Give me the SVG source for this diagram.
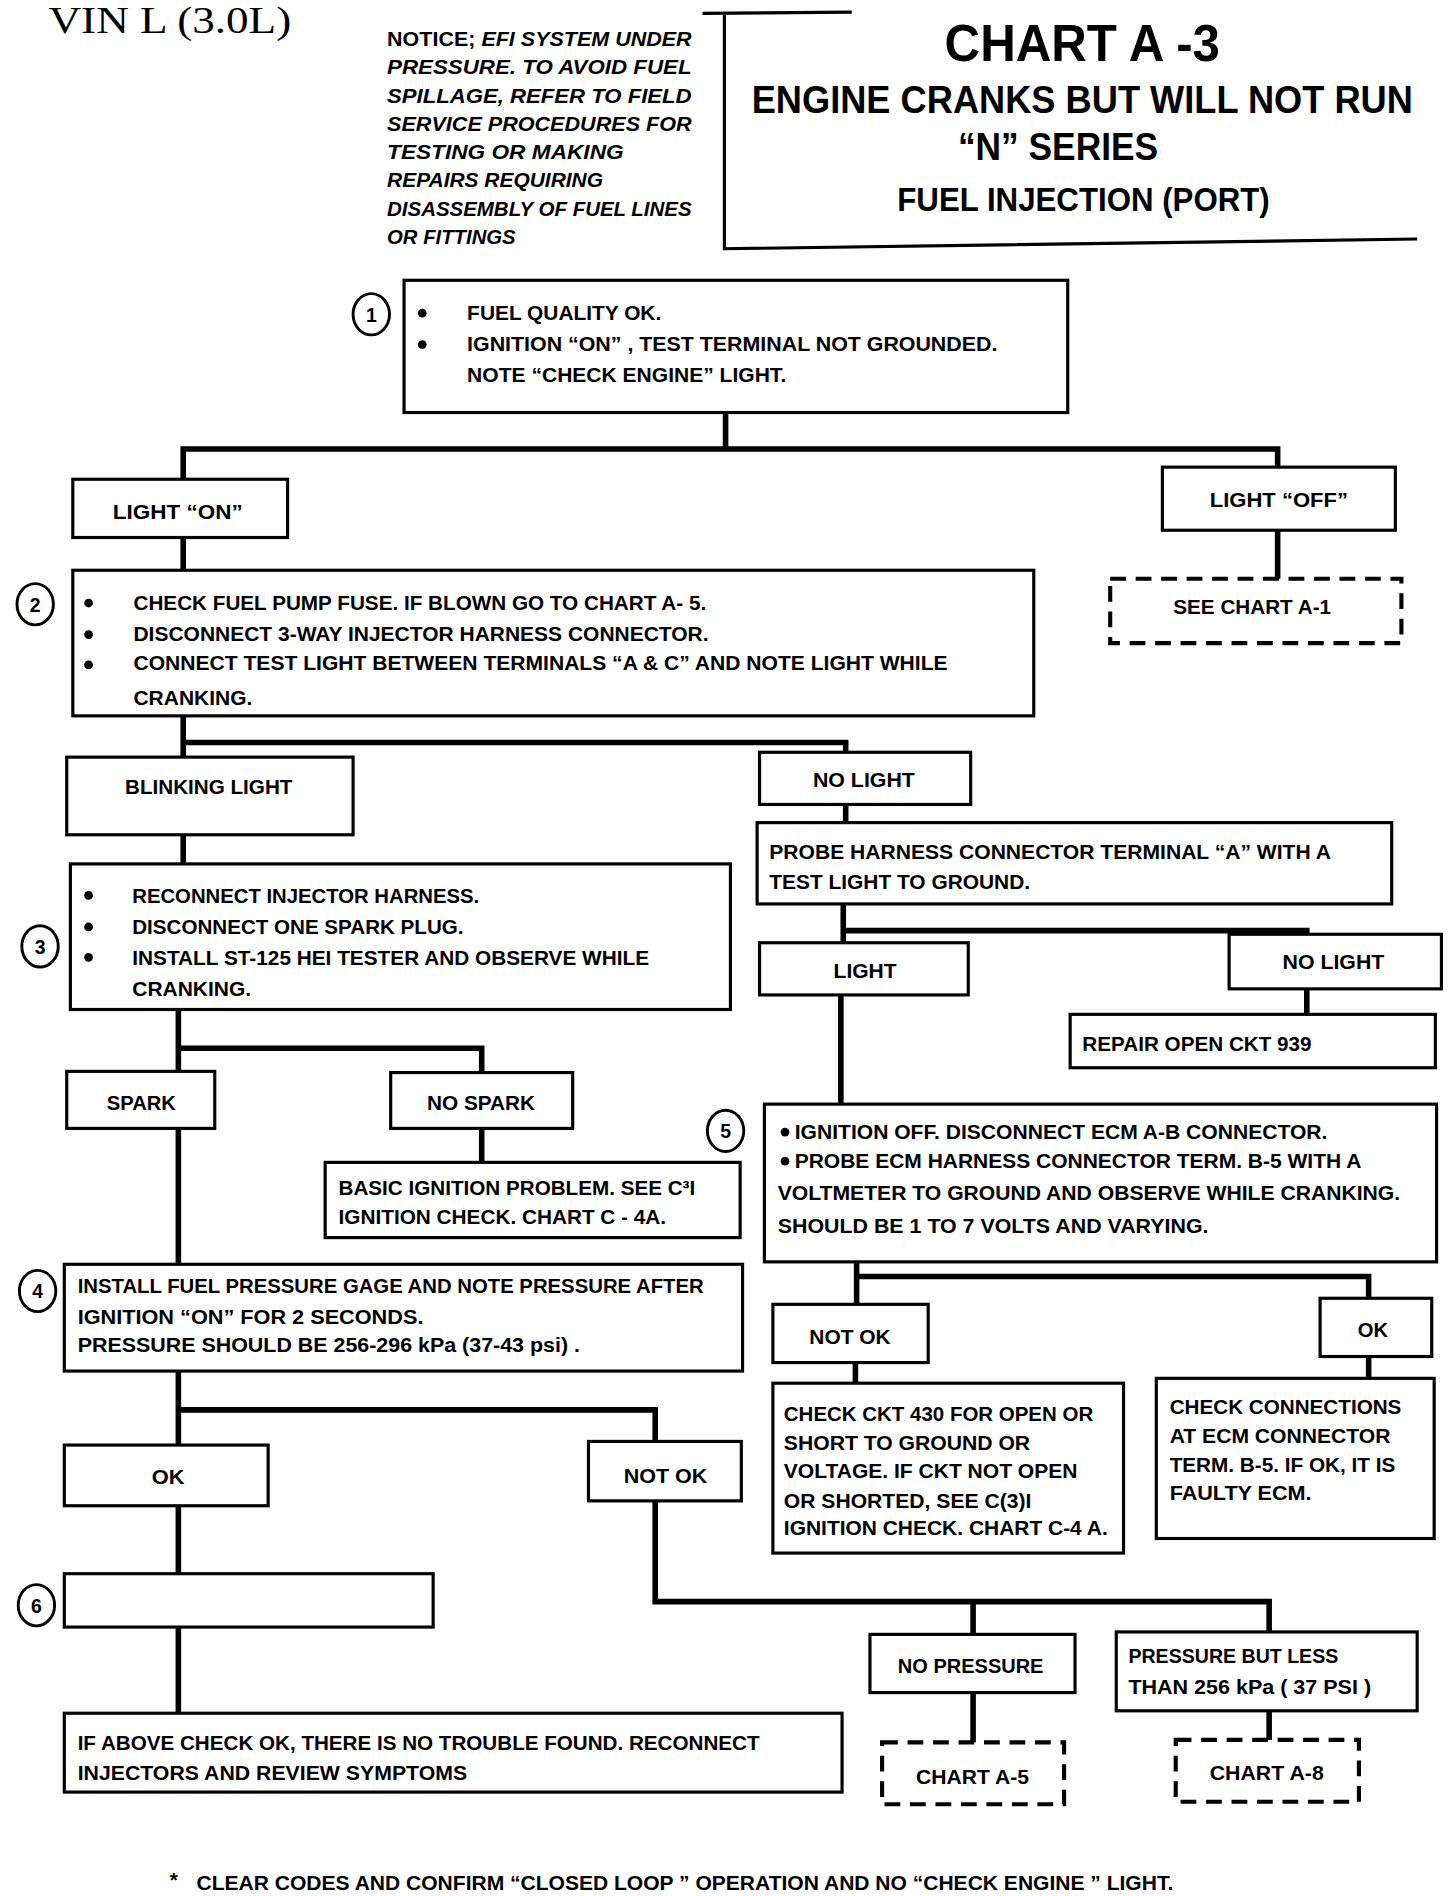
<svg xmlns="http://www.w3.org/2000/svg" width="1456" height="1896" viewBox="0 0 1456 1896">
<defs>
<style>
.bg{fill:#fff}
.box{fill:#fff;stroke:#000;stroke-width:2.6}
.dbox{fill:#fff;stroke:#000;stroke-width:3.4;stroke-dasharray:13 8}
.con{fill:none;stroke:#000;stroke-width:4.6;stroke-linejoin:miter;stroke-linecap:square}
.thin{fill:none;stroke:#000;stroke-width:2.6}
.t{font-family:"Liberation Sans",Arial,sans-serif;font-weight:bold;font-size:17px;fill:#000}
.c{text-anchor:middle}
.it{font-style:italic}
.title{font-family:"Liberation Sans",Arial,sans-serif;font-weight:bold;fill:#000;text-anchor:middle}
.serif{font-family:"Liberation Serif","Times New Roman",serif;font-size:31px;fill:#000}
.num{font-family:"Liberation Sans",Arial,sans-serif;font-weight:bold;font-size:16px;fill:#000;text-anchor:middle}
.circ{fill:#fff;stroke:#000;stroke-width:2.4}
.dot{fill:#000}
</style>
</defs>
<rect class="bg" x="0" y="0" width="1456" height="1896"/>
<g transform="scale(1.213333)">

<g id="header">
<text class="serif" x="40" y="27" textLength="200" lengthAdjust="spacingAndGlyphs">VIN  L  (3.0L)</text>
<g id="notice">
<text class="t" x="319" y="38" textLength="251" lengthAdjust="spacingAndGlyphs">NOTICE; <tspan class="it">EFI SYSTEM UNDER</tspan></text>
<text class="t it" x="319" y="61.3" textLength="251" lengthAdjust="spacingAndGlyphs">PRESSURE.  TO  AVOID  FUEL</text>
<text class="t it" x="319" y="84.6" textLength="251" lengthAdjust="spacingAndGlyphs">SPILLAGE,  REFER  TO  FIELD</text>
<text class="t it" x="319" y="107.9" textLength="251" lengthAdjust="spacingAndGlyphs">SERVICE  PROCEDURES  FOR</text>
<text class="t it" x="319" y="131.2" textLength="195" lengthAdjust="spacingAndGlyphs">TESTING  OR  MAKING</text>
<text class="t it" x="319" y="154.5" textLength="178" lengthAdjust="spacingAndGlyphs">REPAIRS  REQUIRING</text>
<text class="t it" x="319" y="177.8" textLength="251" lengthAdjust="spacingAndGlyphs">DISASSEMBLY OF FUEL LINES</text>
<text class="t it" x="319" y="201" textLength="106" lengthAdjust="spacingAndGlyphs">OR FITTINGS</text>
</g>
<g id="title">
<path class="thin" d="M579 11 L702 10 M597 11 L597 205 L1168 197"/>
<text class="title" x="892" y="50" font-size="42" textLength="227" lengthAdjust="spacingAndGlyphs">CHART  A -3</text>
<text class="title" transform="translate(892,93) scale(1,1.1)" x="0" y="0" font-size="29" textLength="545" lengthAdjust="spacingAndGlyphs">ENGINE CRANKS BUT WILL NOT RUN</text>
<text class="title" x="872" y="132" font-size="32" textLength="165" lengthAdjust="spacingAndGlyphs">“N” SERIES</text>
<text class="title" x="893" y="174" font-size="28" textLength="307" lengthAdjust="spacingAndGlyphs">FUEL INJECTION  (PORT)</text>
</g>
</g>

<g id="connectors">
<path class="con" d="M598 340 V370 M151 395 V370 H1053 V385"/>
<path class="con" d="M1053 437 V477"/>
<path class="con" d="M151 443 V470"/>
<path class="con" d="M151 590 V612 H697 V620 M151 612 V624"/>
<path class="con" d="M697 663 V678"/>
<path class="con" d="M695 745 V767 H1077 V770 M695 767 V777"/>
<path class="con" d="M1077 815 V836"/>
<path class="con" d="M693 820 V910"/>
<path class="con" d="M151 688 V712"/>
<path class="con" d="M147 832 V864 H397 V884 M147 864 V883"/>
<path class="con" d="M397 930 V958"/>
<path class="con" d="M147 930 V1042"/>
<path class="con" d="M706 1040 V1052 H1128 V1070 M706 1052 V1075"/>
<path class="con" d="M705 1123 V1140"/>
<path class="con" d="M1128 1118 V1136"/>
<path class="con" d="M147 1130 V1162 H540 V1188 M147 1162 V1191"/>
<path class="con" d="M540 1237 V1320 H1046 V1345 M802 1320 V1347"/>
<path class="con" d="M147 1241 V1297"/>
<path class="con" d="M147 1341 V1412"/>
<path class="con" d="M802 1395 V1436"/>
<path class="con" d="M1046 1410 V1434"/>
</g>

<g id="n1">
<rect class="box" x="333" y="231" width="547" height="109"/>
<ellipse class="circ" cx="306" cy="259" rx="15" ry="17"/>
<text class="num" x="306" y="265">1</text>
<circle class="dot" cx="348" cy="258" r="3.6"/>
<circle class="dot" cx="348" cy="284" r="3.6"/>
<text class="t" x="385" y="264" textLength="160" lengthAdjust="spacingAndGlyphs">FUEL QUALITY OK.</text>
<text class="t" x="385" y="289" textLength="437" lengthAdjust="spacingAndGlyphs">IGNITION “ON” , TEST TERMINAL NOT GROUNDED.</text>
<text class="t" x="385" y="315" textLength="263" lengthAdjust="spacingAndGlyphs">NOTE “CHECK ENGINE” LIGHT.</text>
</g>

<g id="light-on">
<rect class="box" x="60" y="395" width="177" height="48"/>
<text class="t" x="93" y="428" textLength="107" lengthAdjust="spacingAndGlyphs">LIGHT  “ON”</text>
</g>
<g id="light-off">
<rect class="box" x="958" y="385" width="192" height="52"/>
<text class="t" x="997" y="418" textLength="114" lengthAdjust="spacingAndGlyphs">LIGHT  “OFF”</text>
</g>
<g id="see-a1">
<rect class="dbox" x="915" y="477" width="240" height="53"/>
<text class="t" x="967" y="506" textLength="130" lengthAdjust="spacingAndGlyphs">SEE CHART A-1</text>
</g>

<g id="n2">
<rect class="box" x="60" y="470" width="792" height="120"/>
<ellipse class="circ" cx="29" cy="498" rx="15" ry="17"/>
<text class="num" x="29" y="504">2</text>
<circle class="dot" cx="73" cy="497" r="3.6"/>
<circle class="dot" cx="73" cy="523" r="3.6"/>
<circle class="dot" cx="73" cy="548" r="3.6"/>
<text class="t" x="110" y="503" textLength="472" lengthAdjust="spacingAndGlyphs">CHECK FUEL PUMP FUSE. IF BLOWN GO TO CHART A- 5.</text>
<text class="t" x="110" y="528" textLength="474" lengthAdjust="spacingAndGlyphs">DISCONNECT 3-WAY INJECTOR HARNESS CONNECTOR.</text>
<text class="t" x="110" y="552" textLength="671" lengthAdjust="spacingAndGlyphs">CONNECT TEST LIGHT BETWEEN TERMINALS “A &amp; C”  AND NOTE LIGHT WHILE</text>
<text class="t" x="110" y="581" textLength="98" lengthAdjust="spacingAndGlyphs">CRANKING.</text>
</g>

<g id="blinking">
<rect class="box" x="55" y="624" width="236" height="64"/>
<text class="t" x="103" y="654" textLength="138" lengthAdjust="spacingAndGlyphs">BLINKING LIGHT</text>
</g>
<g id="no-light-1">
<rect class="box" x="626" y="620" width="174" height="43"/>
<text class="t" x="670" y="649" textLength="84" lengthAdjust="spacingAndGlyphs">NO LIGHT</text>
</g>
<g id="probe">
<rect class="box" x="624" y="678" width="523" height="67"/>
<text class="t" x="634" y="708" textLength="463" lengthAdjust="spacingAndGlyphs">PROBE HARNESS CONNECTOR TERMINAL “A” WITH A</text>
<text class="t" x="634" y="733" textLength="215" lengthAdjust="spacingAndGlyphs">TEST LIGHT TO GROUND.</text>
</g>
<g id="light">
<rect class="box" x="626" y="777" width="172" height="43"/>
<text class="t" x="687" y="806" textLength="52" lengthAdjust="spacingAndGlyphs">LIGHT</text>
</g>
<g id="no-light-2">
<rect class="box" x="1013" y="770" width="175" height="45"/>
<text class="t" x="1057" y="799" textLength="84" lengthAdjust="spacingAndGlyphs">NO LIGHT</text>
</g>
<g id="repair">
<rect class="box" x="882" y="836" width="301" height="44"/>
<text class="t" x="892" y="866" textLength="189" lengthAdjust="spacingAndGlyphs">REPAIR OPEN CKT 939</text>
</g>

<g id="n3">
<rect class="box" x="58" y="712" width="544" height="120"/>
<ellipse class="circ" cx="33" cy="780" rx="15" ry="17"/>
<text class="num" x="33" y="786">3</text>
<circle class="dot" cx="73" cy="738" r="3.6"/>
<circle class="dot" cx="73" cy="764" r="3.6"/>
<circle class="dot" cx="73" cy="789" r="3.6"/>
<text class="t" x="109" y="744" textLength="286" lengthAdjust="spacingAndGlyphs">RECONNECT INJECTOR HARNESS.</text>
<text class="t" x="109" y="770" textLength="273" lengthAdjust="spacingAndGlyphs">DISCONNECT ONE SPARK PLUG.</text>
<text class="t" x="109" y="795" textLength="426" lengthAdjust="spacingAndGlyphs">INSTALL ST-125 HEI TESTER AND OBSERVE WHILE</text>
<text class="t" x="109" y="821" textLength="98" lengthAdjust="spacingAndGlyphs">CRANKING.</text>
</g>
<g id="spark">
<rect class="box" x="55" y="883" width="122" height="47"/>
<text class="t" x="88" y="915" textLength="57" lengthAdjust="spacingAndGlyphs">SPARK</text>
</g>
<g id="no-spark">
<rect class="box" x="322" y="884" width="150" height="46"/>
<text class="t" x="352" y="915" textLength="89" lengthAdjust="spacingAndGlyphs">NO SPARK</text>
</g>
<g id="basic">
<rect class="box" x="268" y="958" width="342" height="62"/>
<text class="t" x="279" y="985" textLength="294" lengthAdjust="spacingAndGlyphs">BASIC IGNITION PROBLEM. SEE C³I</text>
<text class="t" x="279" y="1009" textLength="270" lengthAdjust="spacingAndGlyphs">IGNITION CHECK. CHART C - 4A.</text>
</g>

<g id="n5">
<rect class="box" x="630" y="910" width="554" height="130"/>
<ellipse class="circ" cx="598" cy="932" rx="15" ry="17"/>
<text class="num" x="598" y="938">5</text>
<circle class="dot" cx="647" cy="933" r="3.6"/>
<circle class="dot" cx="647" cy="957" r="3.6"/>
<text class="t" x="655" y="939" textLength="439" lengthAdjust="spacingAndGlyphs">IGNITION OFF. DISCONNECT ECM A-B CONNECTOR.</text>
<text class="t" x="655" y="963" textLength="467" lengthAdjust="spacingAndGlyphs">PROBE ECM HARNESS CONNECTOR TERM. B-5  WITH A</text>
<text class="t" x="641" y="989" textLength="513" lengthAdjust="spacingAndGlyphs">VOLTMETER TO GROUND AND OBSERVE WHILE CRANKING.</text>
<text class="t" x="641" y="1016" textLength="355" lengthAdjust="spacingAndGlyphs">SHOULD BE 1 TO 7 VOLTS AND VARYING.</text>
</g>
<g id="not-ok-5">
<rect class="box" x="637" y="1075" width="128" height="48"/>
<text class="t" x="667" y="1108" textLength="67" lengthAdjust="spacingAndGlyphs">NOT OK</text>
</g>
<g id="ok-5">
<rect class="box" x="1088" y="1070" width="92" height="48"/>
<text class="t" x="1119" y="1102" textLength="25" lengthAdjust="spacingAndGlyphs">OK</text>
</g>
<g id="check-ckt">
<rect class="box" x="637" y="1140" width="289" height="140"/>
<text class="t" x="646" y="1171" textLength="255" lengthAdjust="spacingAndGlyphs">CHECK CKT 430 FOR OPEN OR</text>
<text class="t" x="646" y="1195" textLength="203" lengthAdjust="spacingAndGlyphs">SHORT TO GROUND OR</text>
<text class="t" x="646" y="1218" textLength="242" lengthAdjust="spacingAndGlyphs">VOLTAGE. IF CKT NOT OPEN</text>
<text class="t" x="646" y="1243" textLength="204" lengthAdjust="spacingAndGlyphs">OR SHORTED, SEE  C(3)I</text>
<text class="t" x="646" y="1265" textLength="267" lengthAdjust="spacingAndGlyphs">IGNITION CHECK. CHART C-4 A.</text>
</g>
<g id="check-conn">
<rect class="box" x="953" y="1136" width="229" height="132"/>
<text class="t" x="964" y="1165" textLength="191" lengthAdjust="spacingAndGlyphs">CHECK CONNECTIONS</text>
<text class="t" x="964" y="1189" textLength="182" lengthAdjust="spacingAndGlyphs">AT ECM CONNECTOR</text>
<text class="t" x="964" y="1213" textLength="186" lengthAdjust="spacingAndGlyphs">TERM. B-5. IF OK, IT IS</text>
<text class="t" x="964" y="1236" textLength="117" lengthAdjust="spacingAndGlyphs">FAULTY ECM.</text>
</g>

<g id="n4">
<rect class="box" x="53" y="1042" width="559" height="88"/>
<ellipse class="circ" cx="31" cy="1064" rx="15" ry="17"/>
<text class="num" x="31" y="1070">4</text>
<text class="t" x="64" y="1066" textLength="516" lengthAdjust="spacingAndGlyphs">INSTALL FUEL PRESSURE GAGE AND NOTE PRESSURE AFTER</text>
<text class="t" x="64" y="1091" textLength="285" lengthAdjust="spacingAndGlyphs">IGNITION “ON”  FOR 2 SECONDS.</text>
<text class="t" x="64" y="1114" textLength="414" lengthAdjust="spacingAndGlyphs">PRESSURE SHOULD BE  256-296 kPa  (37-43 psi) .</text>
</g>
<g id="ok-4">
<rect class="box" x="53" y="1191" width="168" height="50"/>
<text class="t" x="125" y="1223" textLength="27" lengthAdjust="spacingAndGlyphs">OK</text>
</g>
<g id="not-ok-4">
<rect class="box" x="485" y="1188" width="126" height="49"/>
<text class="t" x="514" y="1222" textLength="69" lengthAdjust="spacingAndGlyphs">NOT OK</text>
</g>
<g id="n6">
<rect class="box" x="53" y="1297" width="304" height="44"/>
<ellipse class="circ" cx="30" cy="1323" rx="15" ry="17"/>
<text class="num" x="30" y="1329">6</text>
</g>
<g id="final">
<rect class="box" x="53" y="1412" width="641" height="65"/>
<text class="t" x="64" y="1442" textLength="562" lengthAdjust="spacingAndGlyphs">IF ABOVE CHECK OK, THERE IS NO TROUBLE FOUND. RECONNECT</text>
<text class="t" x="64" y="1467" textLength="321" lengthAdjust="spacingAndGlyphs">INJECTORS AND REVIEW SYMPTOMS</text>
</g>
<g id="no-pressure">
<rect class="box" x="717" y="1347" width="169" height="48"/>
<text class="t" x="740" y="1379" textLength="120" lengthAdjust="spacingAndGlyphs">NO PRESSURE</text>
</g>
<g id="pressure-less">
<rect class="box" x="920" y="1345" width="248" height="65"/>
<text class="t" x="930" y="1371" textLength="173" lengthAdjust="spacingAndGlyphs">PRESSURE BUT LESS</text>
<text class="t" x="930" y="1396" textLength="200" lengthAdjust="spacingAndGlyphs">THAN 256 kPa ( 37 PSI )</text>
</g>
<g id="chart-a5">
<rect class="dbox" x="727" y="1436" width="150" height="51"/>
<text class="t" x="755" y="1470" textLength="93" lengthAdjust="spacingAndGlyphs">CHART A-5</text>
</g>
<g id="chart-a8">
<rect class="dbox" x="969" y="1434" width="151" height="51"/>
<text class="t" x="997" y="1467" textLength="94" lengthAdjust="spacingAndGlyphs">CHART A-8</text>
</g>

<g id="footer">
<text class="t" x="140" y="1555" font-size="22">*</text>
<text class="t" x="162" y="1558" textLength="805" lengthAdjust="spacingAndGlyphs">CLEAR CODES AND CONFIRM “CLOSED LOOP ” OPERATION AND NO “CHECK ENGINE ” LIGHT.</text>
</g>
</g>
</svg>
